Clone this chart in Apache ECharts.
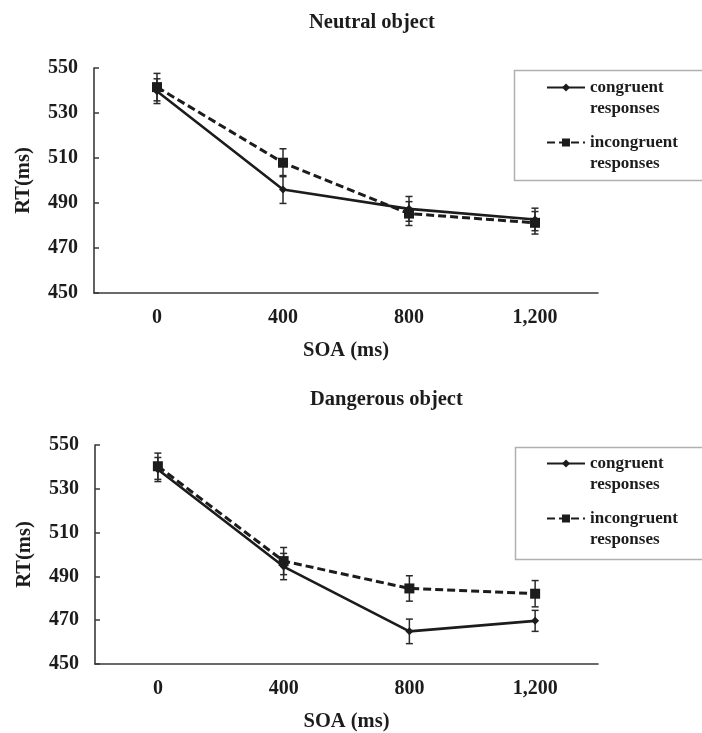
<!DOCTYPE html>
<html>
<head>
<meta charset="utf-8">
<script src="https://cdn.jsdelivr.net/npm/echarts@6/dist/echarts.min.js"></script>
<style>
  html, body { margin: 0; padding: 0; background: #fff; }
  #chart { width: 702px; height: 733px; }
</style>
</head>
<body>
<div id="chart"></div>
<script>
// SOA categories
var soaLabels = ['0', '400', '800', '1,200'];

// neutral object: mean RT and error (ms)
var neutralCong = [539.7, 496, 487.4, 482.7];
var neutralCongErr = [5.5, 6.2, 5.5, 5];
var neutralIncong = [541.5, 507.9, 485.3, 481.2];
var neutralIncongErr = [6.1, 6.2, 5.3, 5];

// dangerous object
var dangerCong = [538.8, 494.5, 464.9, 469.7];
var dangerCongErr = [5.5, 6, 5.6, 4.8];
var dangerIncong = [540.3, 497, 484.5, 482.1];
var dangerIncongErr = [6, 6.2, 5.8, 6];

var congName = 'congruent\nresponses';
var incongName = 'incongruent\nresponses';
var FONT = 'Liberation Serif';
var INK = '#1c1c1c';

function errData(means, errs) {
	var out = [];
	for (var i = 0; i < means.length; i++) {
		out.push([i, means[i] - errs[i], means[i] + errs[i]]);
	}
	return out;
}

// draws an I-beam from low to high
function errorBarItem(params, api) {
	var x = api.value(0);
	var lo = api.coord([x, api.value(1)]);
	var hi = api.coord([x, api.value(2)]);
	var w = 3.5;
	var st = { stroke: '#2a2a2a', lineWidth: 1.5 };
	return {
		type: 'group',
		children: [
			{ type: 'line', shape: { x1: lo[0], y1: lo[1], x2: hi[0], y2: hi[1] }, style: st },
			{ type: 'line', shape: { x1: lo[0] - w, y1: lo[1], x2: lo[0] + w, y2: lo[1] }, style: st },
			{ type: 'line', shape: { x1: hi[0] - w, y1: hi[1], x2: hi[0] + w, y2: hi[1] }, style: st }
		]
	};
}

function xAxisOf(idx) {
	return {
		type: 'category',
		gridIndex: idx,
		data: soaLabels,
		boundaryGap: true,
		axisLine: { lineStyle: { color: '#3a3a3a', width: 1.6 } },
		axisTick: { inside: true, length: 5, lineStyle: { color: '#3a3a3a', width: 1.5 } },
		axisLabel: { margin: 15, color: INK, fontFamily: FONT, fontWeight: 'bold', fontSize: 20 },
		name: 'SOA (ms)',
		nameLocation: 'middle',
		nameGap: 47,
		nameTextStyle: { color: INK, fontFamily: FONT, fontWeight: 'bold', fontSize: 20.5 }
	};
}

function yAxisOf(idx) {
	return {
		type: 'value',
		gridIndex: idx,
		min: 450,
		max: 550,
		interval: 20,
		splitLine: { show: false },
		axisLine: { show: true, lineStyle: { color: '#3a3a3a', width: 1.6 } },
		axisTick: { show: true, inside: true, length: 5, lineStyle: { color: '#3a3a3a', width: 1.5 } },
		axisLabel: { margin: 16, color: INK, fontFamily: FONT, fontWeight: 'bold', fontSize: 20 },
		name: 'RT(ms)',
		nameLocation: 'middle',
		nameGap: 60,
		nameTextStyle: { color: INK, fontFamily: FONT, fontWeight: 'bold', fontSize: 20.5 }
	};
}

function lineSeries(name, idx, data, dashed) {
	return {
		name: name,
		type: 'line',
		xAxisIndex: idx,
		yAxisIndex: idx,
		data: data,
		z: 3,
		symbol: dashed ? 'rect' : 'diamond',
		symbolSize: dashed ? 10 : 8,
		itemStyle: { color: INK },
		lineStyle: { color: INK, width: dashed ? 3 : 2.6, type: dashed ? [8, 4] : 'solid' }
	};
}

function errSeries(idx, means, errs) {
	return {
		name: 'err',
		type: 'custom',
		xAxisIndex: idx,
		yAxisIndex: idx,
		z: 2,
		renderItem: errorBarItem,
		encode: { x: 0, y: [1, 2] },
		data: errData(means, errs)
	};
}

function legendAt(top) {
	return {
		orient: 'vertical',
		left: 546,
		top: top,
		padding: 0,
		itemGap: -8,
		itemWidth: 38,
		itemHeight: 10,
		// blank first line so the icon sits beside the first text line
		formatter: function (name) { return ' \n' + name; },
		textStyle: { color: INK, fontFamily: FONT, fontWeight: 'bold', fontSize: 17, lineHeight: 21 },
		data: [congName, incongName]
	};
}

var myChart = echarts.init(document.getElementById('chart'));
var option = {
	animation: false,
	backgroundColor: '#fff',
	title: [
		{ text: 'Neutral object', left: 309, top: 12, padding: 0,
		  textStyle: { color: INK, fontFamily: FONT, fontWeight: 'bold', fontSize: 20.5 } },
		{ text: 'Dangerous object', left: 310, top: 389, padding: 0,
		  textStyle: { color: INK, fontFamily: FONT, fontWeight: 'bold', fontSize: 20.5 } }
	],
	grid: [
		{ left: 94, top: 68, width: 504, height: 225 },
		{ left: 95, top: 445, width: 503, height: 223 }
	],
	xAxis: [xAxisOf(0), xAxisOf(1)],
	yAxis: [yAxisOf(0), yAxisOf(1)],
	legend: [legendAt(56), legendAt(432)],
	graphic: [
		{ type: 'rect', left: 512, top: 68, shape: { width: 200, height: 110 },
		  style: { fill: 'none', stroke: '#b0b0b0', lineWidth: 1.5 } },
		{ type: 'rect', left: 513, top: 445, shape: { width: 200, height: 112 },
		  style: { fill: 'none', stroke: '#b0b0b0', lineWidth: 1.5 } }
	],
	series: [
		errSeries(0, neutralCong, neutralCongErr),
		errSeries(0, neutralIncong, neutralIncongErr),
		lineSeries(congName, 0, neutralCong, false),
		lineSeries(incongName, 0, neutralIncong, true),
		errSeries(1, dangerCong, dangerCongErr),
		errSeries(1, dangerIncong, dangerIncongErr),
		lineSeries(congName, 1, dangerCong, false),
		lineSeries(incongName, 1, dangerIncong, true)
	]
};
myChart.setOption(option);
</script>
</body>
</html>
